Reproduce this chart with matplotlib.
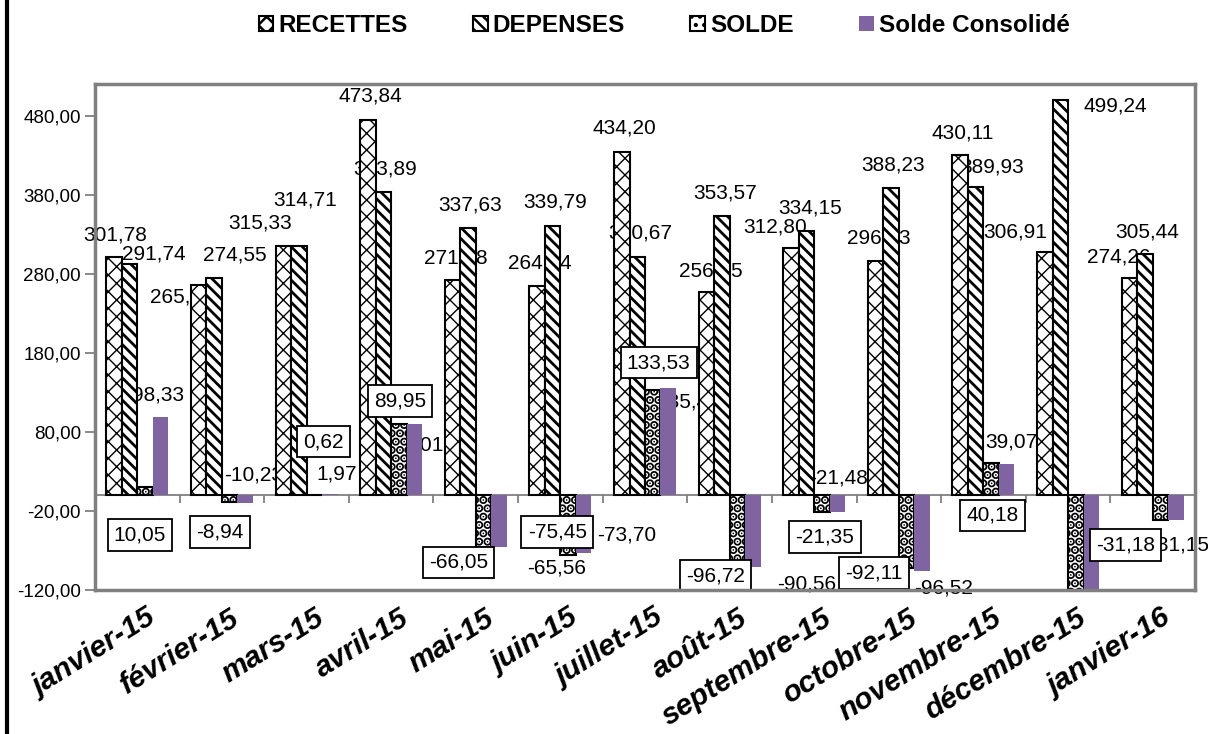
import numpy as np
import matplotlib.pyplot as plt
from matplotlib.lines import Line2D
from matplotlib.patches import Patch
import matplotlib.transforms as mtransforms

plt.rcParams['font.family'] = ['Liberation Sans', 'DejaVu Sans']
plt.rcParams['hatch.linewidth'] = 1.8

mois = ["janvier-15", "février-15", "mars-15", "avril-15", "mai-15", "juin-15",
        "juillet-15", "août-15", "septembre-15", "octobre-15", "novembre-15",
        "décembre-15", "janvier-16"]
recettes = [301.78, 265.61, 315.33, 473.84, 271.58, 264.34, 434.20,
            256.85, 312.80, 296.13, 430.11, 306.91, 274.26]
depenses = [291.74, 274.55, 314.71, 383.89, 337.63, 339.79, 300.67,
            353.57, 334.15, 388.23, 389.93, 499.24, 305.44]
solde = [10.05, -8.94, 0.62, 89.95, -66.05, -75.45, 133.53,
         -96.72, -21.35, -92.11, 40.18, -192.33, -31.18]
solde_conso = [98.33, -10.23, 1.97, 90.01, -65.56, -73.70, 135.48,
               -90.56, -21.48, -96.52, 39.07, -190.00, -31.15]

# label offsets in pixels from the bar end (dx, dy), None = no label
off_rec = [(1, 22), (-17, -12), (-23, 23), (2, 24), (3, 22), (3, 23), (3, 24),
           (4, 21), (-16, 21), (3, 23), (2, 22), (-30, 20), (-11, 21)]
off_dep = [(24, 10), (21, 23), (6, 46), (2, 23), (2, 23), (2, 24), (3, 24),
           (3, 23), (4, 23), (2, 23), (16, 20), (55, -6), (2, 22)]
off_sol = [(-5, -48), (-10, -30), (9, 53), (1, 23), (-25, -15), (-11, 23), (6, 27),
           (-22, -4), (3, -25), (-33, -5), (1, -52), None, (-35, -25)]
off_con = [(-2, 22), (8, 28), (7, 20), (3, -21), (58, -21), (43, 18), (20, -14),
           (54, -17), (1, 34), (21, -17), (5, 22), None, (4, -25)]

violet = '#8064A2'
gris = '#808080'

fig = plt.figure(figsize=(12.08, 7.34), dpi=100)
ax = fig.add_axes([95 / 1208, 1 - 590 / 734, 1100 / 1208, 506 / 734])

x = np.arange(len(mois))
w = 0.183

def fmt(v):
    return f"{v:.2f}".replace('.', ',')

series = [
    (recettes, -1.5, dict(color='white', edgecolor='black', hatch='xx', lw=1.5), off_rec, False, 1.0),
    (depenses, -0.5, dict(color='white', edgecolor='black', hatch='\\\\\\', lw=1.5), off_dep, False, 2.0),
    (solde, 0.5, dict(color='white', edgecolor='black', hatch='..', lw=1.5), off_sol, True, 4.5),
    (solde_conso, 1.5, dict(color=violet, lw=0), off_con, False, None),
]

for vals, k, style, offs, boxed, hlw in series:
    bars = ax.bar(x + k * w, vals, width=w, zorder=3, **style)
    if hlw is not None:
        for p in bars:
            if hasattr(p, 'set_hatch_linewidth'):
                p.set_hatch_linewidth(hlw)
    for xi, v, o in zip(x + k * w, vals, offs):
        if o is None:
            continue
        if boxed:
            ax.annotate(fmt(v), xy=(xi, v), xytext=o, textcoords='offset pixels',
                        ha='center', va='center', fontsize=15, zorder=6,
                        bbox=dict(boxstyle='square,pad=0.3', fc='white', ec='black', lw=1.3))
        else:
            ax.annotate(fmt(v), xy=(xi, v), xytext=o, textcoords='offset pixels',
                        ha='center', va='center', fontsize=15, zorder=2)

ax.axhline(0, color=gris, lw=1.3, zorder=2.9)
ax.vlines(np.arange(0.5, len(mois) - 0.5, 1), -10, 0, color=gris, lw=1.3, zorder=2.9)

ax.set_xlim(-0.5, len(mois) - 0.5)
ax.set_ylim(-120, 520)

yt = np.arange(-120, 481, 100)
ax.set_yticks(yt)
ax.set_yticklabels([fmt(v) for v in yt])
ax.tick_params(axis='y', length=7, color=gris, width=1.3, labelsize=13.5, pad=3)

ax.set_xticks(x)
ax.set_xticklabels(mois, rotation=32, ha='right', rotation_mode='anchor',
                   fontsize=21.5, fontweight='bold', fontstyle='italic')
ax.tick_params(axis='x', length=0, pad=10)
shift = mtransforms.ScaledTranslation(0.08, 0, fig.dpi_scale_trans)
for lab in ax.get_xticklabels():
    lab.set_transform(lab.get_transform() + shift)

for s in ax.spines.values():
    s.set_color(gris)
    s.set_linewidth(2.5)
    s.set_zorder(10)

handles = []
for vals, k, style, offs, boxed, hlw in series:
    hp = Patch(**{('facecolor' if key == 'color' else key): val for key, val in style.items()})
    if hlw is not None and hasattr(hp, 'set_hatch_linewidth'):
        hp.set_hatch_linewidth(min(hlw, 2.0))
    handles.append(hp)
fig.legend(handles, ["RECETTES", "DEPENSES", "SOLDE", "Solde Consolidé"],
           loc='center', bbox_to_anchor=(0.5497, 0.965), ncol=4, frameon=False,
           prop=dict(weight='bold', size=17.5), handlelength=0.6, handleheight=0.6,
           handletextpad=0.2, columnspacing=2.7)

fig.add_artist(Line2D([0.0058, 0.0058], [0, 1], transform=fig.transFigure,
                      color='black', lw=3))

fig.savefig('out.png', dpi=100, facecolor='white')
